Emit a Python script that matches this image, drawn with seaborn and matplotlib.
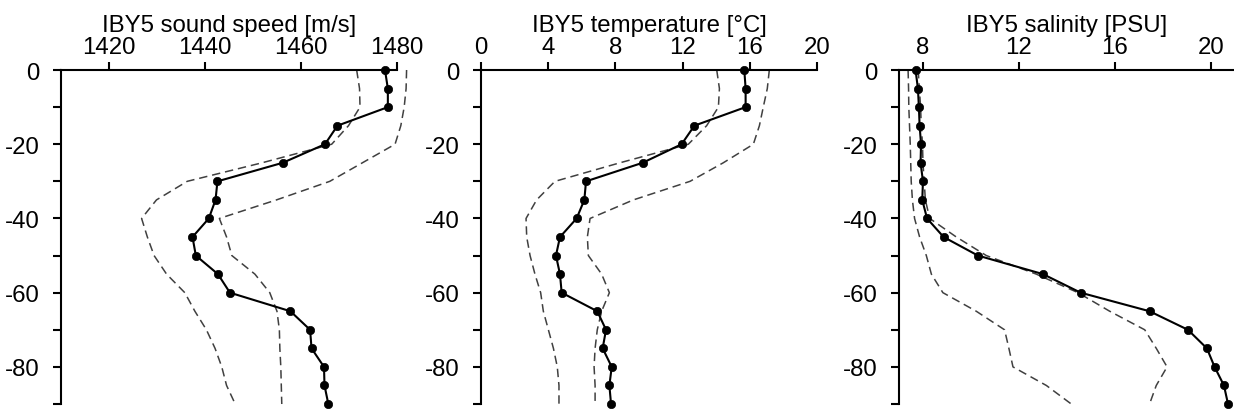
import matplotlib
matplotlib.use('Agg')
import matplotlib.pyplot as plt
import seaborn as sns
import pandas as pd
import numpy as np
from matplotlib.ticker import MultipleLocator


# Profundidades (m)
profundidade = [0, -5, -10, -15, -20, -25, -30, -35, -40, -45,
                -50, -55, -60, -65, -70, -75, -80, -85, -90]

# Velocidade do som [m/s]
som_media = [1477.5, 1478.1, 1478.1, 1467.6, 1465.0, 1456.2, 1442.6, 1442.2, 1440.8, 1437.4,
             1438.1, 1442.7, 1445.2, 1457.8, 1461.9, 1462.2, 1464.8, 1464.9, 1465.7]
som_min = [1471.6, 1472.2, 1472.3, 1469.9, 1466.4, 1451.9, 1436.3, 1429.9, 1426.8, 1428.0,
           1429.4, 1432.0, 1435.8, 1437.9, 1440.3, 1442.1, 1443.5, 1444.5, 1446.3]
som_max = [1482.0, 1481.9, 1481.5, 1480.8, 1479.6, 1472.8, 1466.0, 1454.9, 1443.0, 1444.5,
           1445.6, 1450.4, 1453.5, 1455.0, 1455.5, 1455.6, 1455.8, 1455.9, 1456.0]

# Temperatura [C]
temp_media = [15.67, 15.75, 15.75, 12.70, 11.94, 9.62, 6.25, 6.15, 5.69, 4.70,
              4.46, 4.70, 4.80, 6.92, 7.44, 7.24, 7.78, 7.64, 7.74]
temp_min = [14.03, 14.19, 14.13, 13.43, 12.34, 8.27, 4.40, 3.31, 2.68, 2.72,
            2.92, 3.21, 3.55, 3.71, 4.01, 4.31, 4.54, 4.64, 4.64]
temp_max = [17.16, 17.04, 16.80, 16.57, 16.21, 14.42, 12.44, 9.07, 6.49, 6.33,
            6.39, 7.18, 7.64, 7.18, 6.92, 6.79, 6.73, 6.79, 6.79]

# Salinidade [PSU]
sal_media = [7.69, 7.79, 7.83, 7.86, 7.92, 7.90, 8.00, 7.97, 8.17, 8.86,
             10.29, 13.00, 14.57, 17.44, 19.04, 19.83, 20.15, 20.54, 20.71]
sal_min = [7.38, 7.40, 7.41, 7.44, 7.47, 7.49, 7.51, 7.56, 7.65, 7.86,
           8.14, 8.35, 8.83, 10.22, 11.40, 11.58, 11.75, 13.14, 14.18]
sal_max = [7.80, 7.85, 7.90, 7.93, 7.98, 8.00, 8.05, 8.10, 8.28, 9.39,
           10.64, 12.72, 14.46, 15.78, 17.24, 17.72, 18.17, 17.72, 17.44]

titulos = ['IBY5 sound speed [m/s]', 'IBY5 temperature [°C]', 'IBY5 salinity [PSU]']
limites = [(1410, 1480), (0, 20), (7, 21)]
ticks_x = [[1420, 1440, 1460, 1480], [0, 4, 8, 12, 16, 20], [8, 12, 16, 20]]
esquerda = [0.0494, 0.3898, 0.7285]  # posição de cada painel

sns.set_style('ticks')
plt.rcParams['font.family'] = ['Liberation Sans', 'DejaVu Sans']
plt.rcParams['axes.unicode_minus'] = False

fig = plt.figure(figsize=(12.34, 4.14), dpi=100)

dados = [(som_media, som_min, som_max), (temp_media, temp_min, temp_max), (sal_media, sal_min, sal_max)]

for i, (media, baixo, alto) in enumerate(dados):
    ax = fig.add_axes([esquerda[i], 0.0217, 0.2723, 0.8068])

    # Envelope tracejado (min / max)
    for serie in (baixo, alto):
        sns.lineplot(x=serie, y=profundidade, sort=False, estimator=None, orient='y',
                     color='#404040', lw=1.1, linestyle=(0, (5.5, 3.2)), ax=ax)
    # Perfil médio
    sns.lineplot(x=media, y=profundidade, sort=False, estimator=None, orient='y',
                 color='black', lw=1.5, marker='o', markersize=6,
                 markeredgecolor='black', markeredgewidth=0.5, ax=ax)
    for ln in ax.lines:
        ln.set_clip_on(False)

    ax.set_xlim(limites[i])
    ax.set_ylim(-90, 0)
    ax.set_xticks(ticks_x[i])
    ax.yaxis.set_major_locator(MultipleLocator(20))
    ax.yaxis.set_minor_locator(MultipleLocator(10))
    ax.xaxis.tick_top()
    ax.set_xlabel('')
    ax.set_ylabel('')

    # Spines: apenas topo e esquerda
    ax.spines['right'].set_visible(False)
    ax.spines['bottom'].set_visible(False)
    for lado in ('top', 'left'):
        ax.spines[lado].set_linewidth(1.5)
        ax.spines[lado].set_color('black')
    ax.tick_params(axis='both', which='both', direction='out', length=5.5, width=1.5,
                   colors='black', labelsize=17.3)
    ax.tick_params(axis='x', pad=3)
    ax.tick_params(axis='y', pad=10)
    ax.set_title(titulos[i], fontsize=17.3, pad=3, color='black')

fig.savefig('out.png', dpi=100)
